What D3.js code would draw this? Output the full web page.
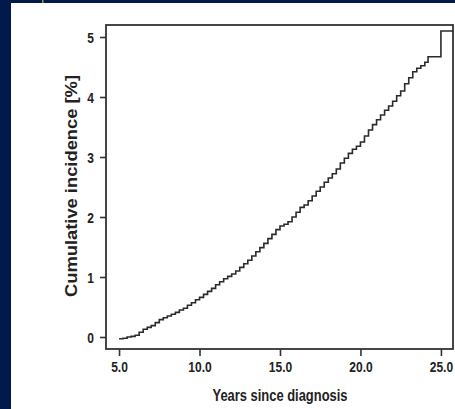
<!DOCTYPE html>
<html>
<head>
<meta charset="utf-8">
<style>
body { margin: 0; background: #011a4b; }
svg { display: block; }
.tick text { font-family: "Liberation Sans", Arial, sans-serif; font-weight: bold; fill: #222; }
.lab { font-family: "Liberation Sans", Arial, sans-serif; fill: #222; }
</style>
</head>
<body>
<div id="ch1"></div>
<script src="https://d3js.org/d3.v7.min.js"></script>
<script>

// years since diagnosis
var years = [5.00,5.25,5.50,5.75,6.00,6.25,6.50,6.75,7.00,7.25,7.50,7.75,
  8.00,8.25,8.50,8.75,9.00,9.25,9.50,9.75,10.00,10.25,10.50,10.75,
  11.00,11.25,11.50,11.75,12.00,12.25,12.50,12.75,13.00,13.25,13.50,13.75,
  14.00,14.25,14.50,14.75,15.00,15.25,15.50,15.75,16.00,16.25,16.50,16.75,
  17.00,17.25,17.50,17.75,18.00,18.25,18.50,18.75,19.00,19.25,19.50,19.75,
  20.00,20.25,20.50,20.75,21.00,21.25,21.50,21.75,22.00,22.25,22.50,22.75,
  23.00,23.25,23.50,23.75,24.00,24.20,25.00,25.75];
// cumulative incidence [%]
var incidence = [-0.03,-0.02,0.00,0.01,0.03,0.08,0.13,0.16,0.19,0.24,0.29,0.32,
  0.35,0.38,0.41,0.45,0.48,0.53,0.57,0.62,0.66,0.71,0.76,0.81,
  0.87,0.92,0.97,1.01,1.05,1.10,1.16,1.22,1.28,1.35,1.42,1.49,
  1.56,1.64,1.71,1.79,1.85,1.88,1.92,2.00,2.08,2.16,2.20,2.27,
  2.35,2.43,2.50,2.58,2.65,2.72,2.80,2.90,2.98,3.06,3.13,3.18,
  3.25,3.35,3.45,3.54,3.62,3.70,3.78,3.85,3.93,4.02,4.10,4.22,
  4.32,4.42,4.48,4.52,4.58,4.67,5.10,5.10];

var xTicks = [5, 10, 15, 20, 25];
var yTicks = [0, 1, 2, 3, 4, 5];

var W = 455, H = 409;
var box = {left: 106, top: 25, right: 453, bottom: 349};

var svg = d3.select("#ch1").append("svg")
  .attr("width", W).attr("height", H);

// navy frame around white panel
svg.append("rect").attr("width", W).attr("height", H).attr("fill", "#011a4b");
svg.append("rect").attr("x", 11).attr("y", 3).attr("width", W - 11).attr("height", H - 3).attr("fill", "#fff");
svg.append("rect").attr("x", 42).attr("y", 0).attr("width", 1.5).attr("height", 3).attr("fill", "#9a9a3a");

var x = d3.scaleLinear().domain([4.19, 25.75]).range([box.left, box.right]);
var y = d3.scaleLinear().domain([-0.2, 5.2]).range([box.bottom, box.top]);

var xAxis = svg.append("g")
  .attr("transform", "translate(0," + box.bottom + ")")
  .call(d3.axisBottom(x).tickValues(xTicks).tickFormat(d3.format(".1f")).tickSize(7).tickPadding(5));
var yAxis = svg.append("g")
  .attr("transform", "translate(" + box.left + ",0)")
  .call(d3.axisLeft(y).tickValues(yTicks).tickFormat(d3.format("d")).tickSize(6).tickPadding(6));

// narrow-looking labels: squeeze glyphs horizontally
function squeeze(sel, k) {
  sel.each(function() {
    var w = this.getComputedTextLength();
    d3.select(this).attr("textLength", w * k).attr("lengthAdjust", "spacingAndGlyphs");
  });
}

[xAxis, yAxis].forEach(function(g) {
  g.select(".domain").remove();
  g.selectAll(".tick line").attr("stroke", "#333").attr("stroke-width", 1.6);
  g.selectAll(".tick text").attr("font-size", 15);
  squeeze(g.selectAll(".tick text"), 0.8);
});
yAxis.selectAll(".tick text").attr("dy", "0.36em");

// box
svg.append("rect")
  .attr("x", box.left).attr("y", box.top)
  .attr("width", box.right - box.left).attr("height", box.bottom - box.top)
  .attr("fill", "none").attr("stroke", "#333").attr("stroke-width", 1.8);

// step curve
var data = years.map(function(t, i) { return [t, incidence[i]]; });
var line = d3.line()
  .x(function(d) { return x(d[0]); })
  .y(function(d) { return y(d[1]); })
  .curve(d3.curveStepAfter);

svg.append("path")
  .datum(data)
  .attr("d", line)
  .attr("fill", "none")
  .attr("stroke", "#2a2a2a")
  .attr("stroke-width", 1.6);

// axis titles
svg.append("text").attr("class", "lab")
  .attr("x", 280).attr("y", 401)
  .attr("text-anchor", "middle")
  .attr("font-size", 16.5).attr("font-weight", "bold")
  .attr("textLength", 135).attr("lengthAdjust", "spacingAndGlyphs")
  .text("Years since diagnosis");

svg.append("text").attr("class", "lab")
  .attr("transform", "translate(77,186) rotate(-90)")
  .attr("text-anchor", "middle")
  .attr("font-size", 16).attr("font-weight", "bold")
  .attr("textLength", 222).attr("lengthAdjust", "spacingAndGlyphs")
  .text("Cumulative incidence [%]");

</script>
</body>
</html>
